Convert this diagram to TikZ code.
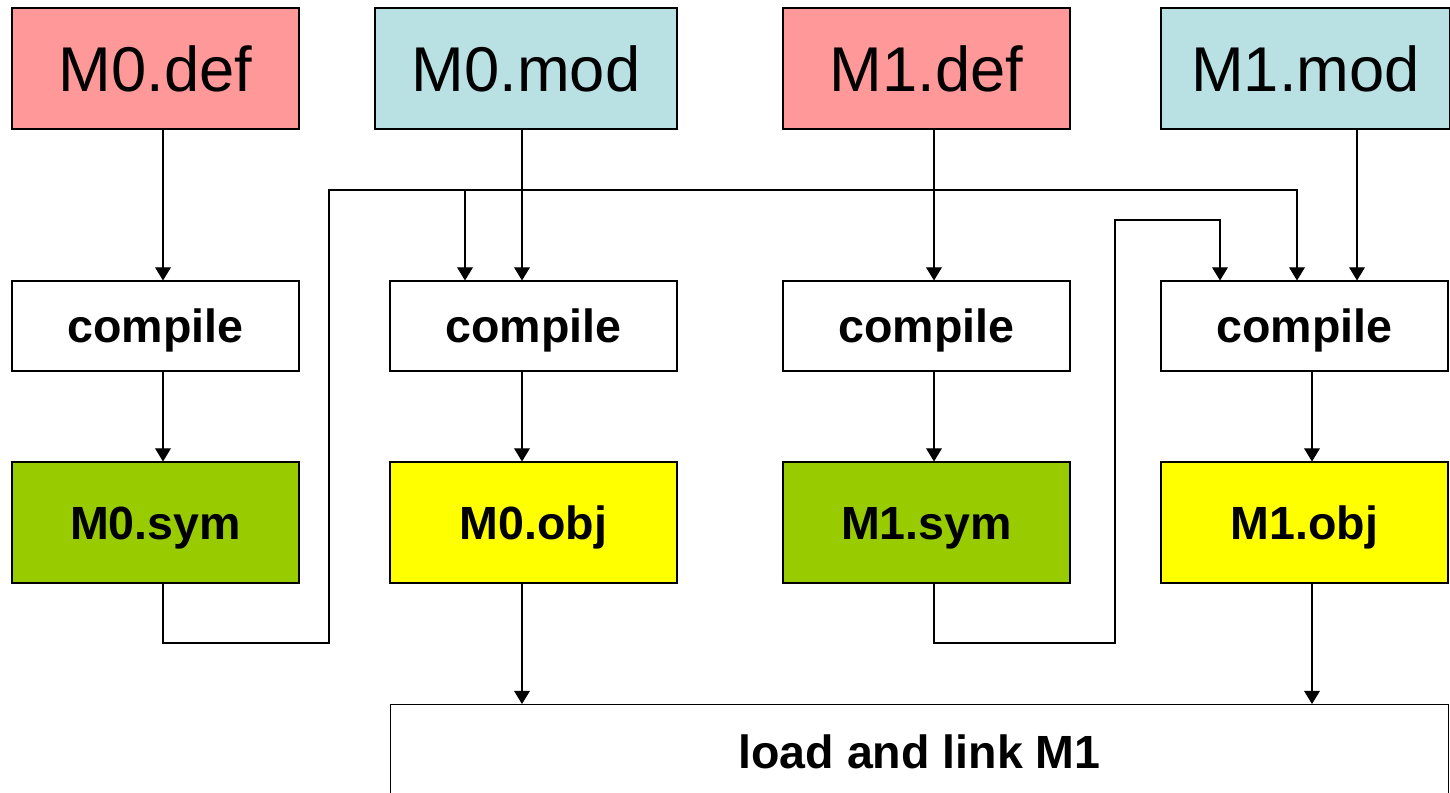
\documentclass[tikz,border=0pt]{standalone}
\usepackage{fontspec}
\setmainfont{Liberation Sans}
\usetikzlibrary{arrows.meta}
\definecolor{defred}{HTML}{FF9999}
\definecolor{modblue}{HTML}{B9E0E3}
\definecolor{symgreen}{HTML}{99CC00}
\definecolor{objyellow}{HTML}{FFFF00}
\tikzset{
  src/.style={draw, line width=0.6pt, minimum width=5.74cm, minimum height=2.42cm, inner sep=0pt, font=\fontsize{36}{40}\selectfont},
  bold text/.style={font=\bfseries\fontsize{26.5}{30}\selectfont, text height=19.2pt, text depth=0pt},
  step box/.style={draw, line width=0.6pt, fill=white, minimum width=5.74cm, minimum height=1.8cm, inner sep=0pt, bold text},
  out box/.style={draw, line width=0.6pt, minimum width=5.74cm, minimum height=2.42cm, inner sep=0pt, bold text},
  arr/.style={line width=0.6pt, -{Triangle[length=7.5pt,width=9pt]}}
}
\begin{document}
\begin{tikzpicture}
\useasboundingbox (0,0) rectangle (29,-15.84);
\clip (0,0) rectangle (29,-15.84);

% sources
\node[src, fill=defred] (m0def) at (3.11,-1.37) {M0.def};
\node[src, fill=modblue, minimum width=6.04cm] (m0mod) at (10.52,-1.37) {M0.mod};
\node[src, fill=defred] (m1def) at (18.53,-1.37) {M1.def};
\node[src, fill=modblue, minimum width=5.78cm] (m1mod) at (26.11,-1.37) {M1.mod};

% compile steps
\node[step box] (c0) at (3.11,-6.52) {compile};
\node[step box] (c1) at (10.67,-6.52) {compile};
\node[step box] (c2) at (18.53,-6.52) {compile};
\node[step box] (c3) at (26.09,-6.52) {compile};

% outputs
\node[out box, fill=symgreen] (m0sym) at (3.11,-10.45) {M0.sym};
\node[out box, fill=objyellow] (m0obj) at (10.67,-10.45) {M0.obj};
\node[out box, fill=symgreen] (m1sym) at (18.53,-10.45) {M1.sym};
\node[out box, fill=objyellow] (m1obj) at (26.09,-10.45) {M1.obj};

\node[draw, line width=0.6pt, minimum width=21.16cm, minimum height=1.9cm, inner sep=0pt, bold text, anchor=north west] (link) at (7.8,-14.08) {load and link M1};

% straight arrows
\draw[arr] ([xshift=0.15cm]m0def.south) -- ([xshift=0.15cm]c0.north);
\draw[arr] ([xshift=0.15cm]c0.south) -- ([xshift=0.15cm]m0sym.north);
\draw[arr] ([xshift=-0.08cm]m0mod.south) -- ([xshift=-0.08cm]m0mod.south |- c1.north);
\draw[arr] ([xshift=-0.23cm]c1.south) -- ([xshift=-0.23cm]m0obj.north);
\draw[arr] ([xshift=0.15cm]m1def.south) -- ([xshift=0.15cm]c2.north);
\draw[arr] ([xshift=0.15cm]c2.south) -- ([xshift=0.15cm]m1sym.north);
\draw[arr] ([xshift=1.03cm]m1mod.south) -- ([xshift=1.03cm]m1mod.south |- c3.north);
\draw[arr] ([xshift=0.15cm]c3.south) -- ([xshift=0.15cm]m1obj.north);
\draw[arr] ([xshift=-0.23cm]m0obj.south) -- ([xshift=-0.23cm]m0obj.south |- link.north);
\draw[arr] ([xshift=0.15cm]m1obj.south) -- ([xshift=0.15cm]m1obj.south |- link.north);

% symbol files feed the later compiles
\coordinate (bus0) at (6.58,-3.8);
\coordinate (bus1) at (22.3,-4.4);
\draw[arr] ([xshift=0.15cm]m0sym.south) |- (6.58,-12.86) -- (bus0) -| ([xshift=-0.15cm]c3.north);
\draw[arr] (9.3,-3.8) -- (9.3,-3.8 |- c1.north);
\draw[arr] ([xshift=0.15cm]m1sym.south) |- (22.3,-12.86) -- (bus1) -| ([xshift=-1.69cm]c3.north);
\end{tikzpicture}
\end{document}
